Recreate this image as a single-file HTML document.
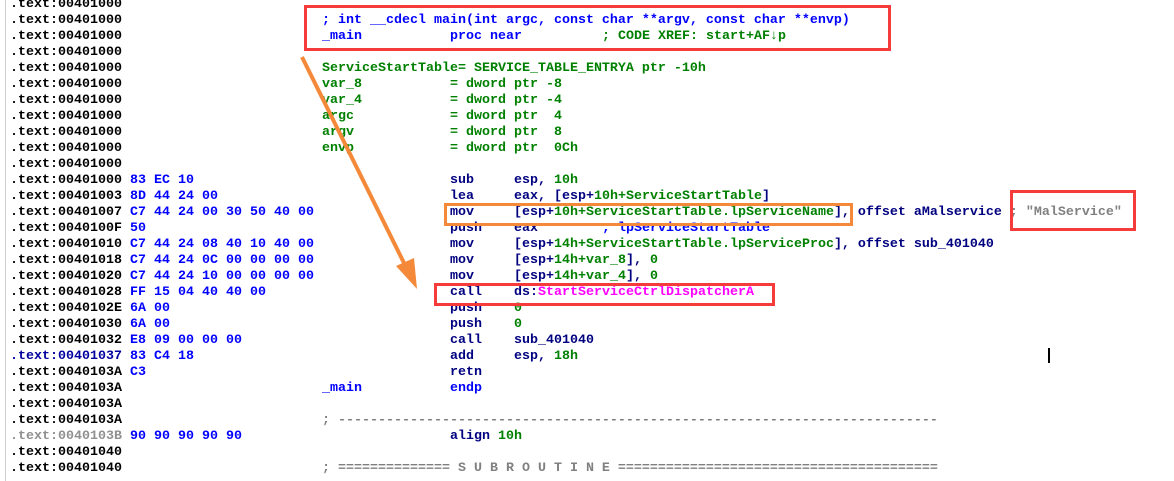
<!DOCTYPE html>
<html><head><meta charset="utf-8"><style>
html,body{margin:0;padding:0;background:#fff;width:1174px;height:481px;overflow:hidden;position:relative}
.r{position:absolute;left:0;height:16px;width:1174px;font-family:"Liberation Mono",monospace;font-size:13.33px;font-weight:bold;line-height:16px;white-space:pre}
.r span{position:absolute;top:0}
.a{left:10px;color:#000}.b{left:130px;color:#0000ff}.l{left:322px}.m{left:450px;color:#000080}.o{left:514px;color:#000080}
.bl{color:#0000ff}.g{color:#008000}.n{color:#000080}.p{color:#ff00ff}.gr{color:#808080}
.box{position:absolute;box-sizing:border-box}
</style></head><body>
<div style="position:absolute;left:5px;top:0;width:1px;height:481px;background:#d0d0d0"></div>
<div class="r" style="top:-3px"><span class="a">.text:00401000</span></div>
<div class="r" style="top:13px"><span class="a">.text:00401000</span><span class="l bl">; int __cdecl main(int argc, const char **argv, const char **envp)</span></div>
<div class="r" style="top:29px"><span class="a">.text:00401000</span><span class="l bl">_main</span><span class="m bl">proc near</span><span class="g" style="left:602px">; CODE XREF: start+AF↓p</span></div>
<div class="r" style="top:45px"><span class="a">.text:00401000</span></div>
<div class="r" style="top:61px"><span class="a">.text:00401000</span><span class="l g">ServiceStartTable= SERVICE_TABLE_ENTRYA ptr -10h</span></div>
<div class="r" style="top:77px"><span class="a">.text:00401000</span><span class="l g">var_8</span><span class="m g">= dword ptr -8</span></div>
<div class="r" style="top:93px"><span class="a">.text:00401000</span><span class="l g">var_4</span><span class="m g">= dword ptr -4</span></div>
<div class="r" style="top:109px"><span class="a">.text:00401000</span><span class="l g">argc</span><span class="m g">= dword ptr  4</span></div>
<div class="r" style="top:125px"><span class="a">.text:00401000</span><span class="l g">argv</span><span class="m g">= dword ptr  8</span></div>
<div class="r" style="top:141px"><span class="a">.text:00401000</span><span class="l g">envp</span><span class="m g">= dword ptr  0Ch</span></div>
<div class="r" style="top:157px"><span class="a">.text:00401000</span></div>
<div class="r" style="top:173px"><span class="a">.text:00401000</span><span class="b">83 EC 10</span><span class="m">sub</span><span class="o">esp, <span class="g" style="position:static">10h</span></span></div>
<div class="r" style="top:189px"><span class="a">.text:00401003</span><span class="b">8D 44 24 00</span><span class="m">lea</span><span class="o">eax, [esp+<span class="g" style="position:static">10h+ServiceStartTable</span>]</span></div>
<div class="r" style="top:205px"><span class="a">.text:00401007</span><span class="b">C7 44 24 00 30 50 40 00</span><span class="m">mov</span><span class="o">[esp+<span class="g" style="position:static">10h+ServiceStartTable.lpServiceName</span>], offset aMalservice <span class="gr" style="position:static">; "MalService"</span></span></div>
<div class="r" style="top:221px"><span class="a">.text:0040100F</span><span class="b">50</span><span class="m">push</span><span class="o">eax</span><span class="bl" style="left:602px">; lpServiceStartTable</span></div>
<div class="r" style="top:237px"><span class="a">.text:00401010</span><span class="b">C7 44 24 08 40 10 40 00</span><span class="m">mov</span><span class="o">[esp+<span class="g" style="position:static">14h+ServiceStartTable.lpServiceProc</span>], offset sub_401040</span></div>
<div class="r" style="top:253px"><span class="a">.text:00401018</span><span class="b">C7 44 24 0C 00 00 00 00</span><span class="m">mov</span><span class="o">[esp+<span class="g" style="position:static">14h+var_8</span>], <span class="g" style="position:static">0</span></span></div>
<div class="r" style="top:269px"><span class="a">.text:00401020</span><span class="b">C7 44 24 10 00 00 00 00</span><span class="m">mov</span><span class="o">[esp+<span class="g" style="position:static">14h+var_4</span>], <span class="g" style="position:static">0</span></span></div>
<div class="r" style="top:285px"><span class="a">.text:00401028</span><span class="b">FF 15 04 40 40 00</span><span class="m">call</span><span class="o">ds:<span class="p" style="position:static">StartServiceCtrlDispatcherA</span></span></div>
<div class="r" style="top:301px"><span class="a">.text:0040102E</span><span class="b">6A 00</span><span class="m">push</span><span class="o g">0</span></div>
<div class="r" style="top:317px"><span class="a">.text:00401030</span><span class="b">6A 00</span><span class="m">push</span><span class="o g">0</span></div>
<div class="r" style="top:333px"><span class="a">.text:00401032</span><span class="b">E8 09 00 00 00</span><span class="m">call</span><span class="o">sub_401040</span></div>
<div class="r" style="top:349px"><span class="a" style="color:#0000a0">.text:00401037</span><span class="b">83 C4 18</span><span class="m">add</span><span class="o">esp, <span class="g" style="position:static">18h</span></span></div>
<div class="r" style="top:365px"><span class="a">.text:0040103A</span><span class="b">C3</span><span class="m">retn</span></div>
<div class="r" style="top:381px"><span class="a">.text:0040103A</span><span class="l bl">_main</span><span class="m bl">endp</span></div>
<div class="r" style="top:397px"><span class="a">.text:0040103A</span></div>
<div class="r" style="top:413px"><span class="a">.text:0040103A</span><span class="l gr">; ---------------------------------------------------------------------------</span></div>
<div class="r" style="top:429px"><span class="a" style="color:#909090">.text:0040103B</span><span class="b">90 90 90 90 90</span><span class="m">align</span><span class="g" style="left:498px">10h</span></div>
<div class="r" style="top:445px"><span class="a">.text:00401040</span></div>
<div class="r" style="top:461px"><span class="a">.text:00401040</span><span class="l gr">; ============== S U B R O U T I N E ========================================</span></div>
<div style="position:absolute;left:1048px;top:348px;width:2px;height:15px;background:#000"></div>
<div class="box" style="left:304px;top:5px;width:587px;height:46px;border:3px solid #f63b3b"></div>
<div class="box" style="left:444px;top:203px;width:409px;height:23px;border:3px solid #f5893a"></div>
<div class="box" style="left:434px;top:283px;width:341px;height:23px;border:3px solid #f63b3b"></div>
<div class="box" style="left:1010px;top:190px;width:126px;height:41px;border:3px solid #f63b3b"></div>
<svg style="position:absolute;left:0;top:0" width="1174" height="481">
<line x1="302" y1="57" x2="405" y2="265" stroke="#f5893a" stroke-width="4"/>
<polygon points="396,266 414,258 417,289" fill="#f5893a"/>
</svg>
</body></html>
